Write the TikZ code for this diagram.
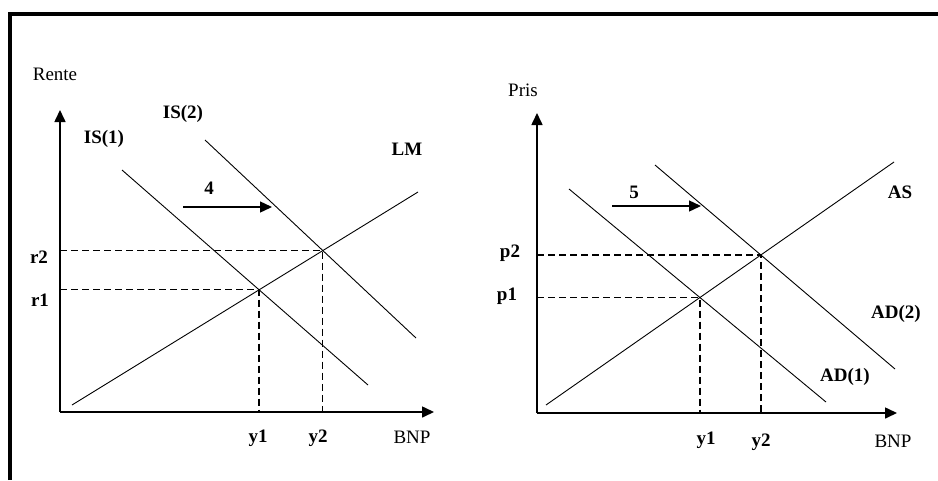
\documentclass[tikz,border=0pt]{standalone}
\usepackage{fontspec}
\setmainfont{Liberation Serif}
\usetikzlibrary{arrows.meta}

\begin{document}
\begin{tikzpicture}[x=1pt, y=-1pt,
  curve/.style={line width=0.9pt},
  axis/.style={line width=1.6pt, -{Triangle[length=12pt,width=11pt]}},
  guide/.style={line width=1.3pt, dash pattern=on 7pt off 4pt},
  move/.style={line width=1.4pt, -{Triangle[length=12pt,width=11pt]}},
  lbl/.style={font=\fontsize{19}{21}\selectfont\bfseries, inner sep=0pt},
  axlbl/.style={font=\fontsize{19}{21}\selectfont, inner sep=0pt}
]
  \useasboundingbox (0,0) rectangle (938,480);
  \draw[line width=4pt] (9.5,480) -- (9.5,14) -- (938,14);

  % IS-LM
  \coordinate (o1) at (60,412);
  \coordinate (yt1) at (60,110);
  \coordinate (xt1) at (434,412);
  \coordinate (is1a) at (122,170);
  \coordinate (is1b) at (368,385);
  \coordinate (is2a) at (205,140);
  \coordinate (is2b) at (416,338);
  \coordinate (lma) at (72,405);
  \coordinate (lmb) at (418,192);
  \coordinate (e1) at (intersection of is1a--is1b and lma--lmb);
  \coordinate (e2) at (intersection of is2a--is2b and lma--lmb);
  \coordinate (m4a) at (183,207);
  \coordinate (m4b) at (272,207);

  \draw[axis] (o1) -- (yt1);
  \draw[axis] (o1) -- (xt1);
  \draw[curve] (is1a) -- (is1b);
  \draw[curve] (is2a) -- (is2b);
  \draw[curve] (lma) -- (lmb);
  \draw[guide] (o1 |- e1) -- (e1) -- (e1 |- o1);
  \draw[guide] (o1 |- e2) -- (e2) -- (e2 |- o1);
  \draw[move] (m4a) -- (m4b);

  \node[axlbl] (rente) at (55,74) {Rente};
  \node[lbl] (is1) at (104,139) {IS(1)};
  \node[lbl] (is2) at (183,114) {IS(2)};
  \node[lbl] (lm) at (407,149) {LM};
  \node[lbl] (n4) at (209,188) {4};
  \node[lbl] (r2) at (39,257) {r2};
  \node[lbl] (r1) at (40,300) {r1};
  \node[lbl] (ya) at (258,438) {y1};
  \node[lbl] (yb) at (318,438) {y2};
  \node[axlbl] (bnp1) at (412,437) {BNP};

  % AS-AD
  \coordinate (o2) at (537,413);
  \coordinate (yt2) at (537,113);
  \coordinate (xt2) at (897,413);
  \coordinate (ad1a) at (569,189);
  \coordinate (ad1b) at (826,402);
  \coordinate (ad2a) at (655,165);
  \coordinate (ad2b) at (895,369);
  \coordinate (asa) at (546,405);
  \coordinate (asb) at (894,162);
  \coordinate (f1) at (intersection of ad1a--ad1b and asa--asb);
  \coordinate (f2) at (intersection of ad2a--ad2b and asa--asb);
  \coordinate (m5a) at (612,206);
  \coordinate (m5b) at (701,206);

  \draw[axis] (o2) -- (yt2);
  \draw[axis] (o2) -- (xt2);
  \draw[curve] (ad1a) -- (ad1b);
  \draw[curve] (ad2a) -- (ad2b);
  \draw[curve] (asa) -- (asb);
  \draw[guide] (o2 |- f1) -- (f1) -- (f1 |- o2);
  \draw[guide] (o2 |- f2) -- (f2) -- (f2 |- o2);
  \draw[move] (m5a) -- (m5b);

  \node[axlbl] (pris) at (523,90) {Pris};
  \node[lbl] (n5) at (634,192) {5};
  \node[lbl] (as) at (900,192) {AS};
  \node[lbl] (ad2) at (896,314) {AD(2)};
  \node[lbl] (ad1) at (845,377) {AD(1)};
  \node[lbl] (p2) at (510,253) {p2};
  \node[lbl] (p1) at (507,296) {p1};
  \node[lbl] (yc) at (706,440) {y1};
  \node[lbl] (yd) at (761,442) {y2};
  \node[axlbl] (bnp2) at (893,441) {BNP};
\end{tikzpicture}
\end{document}
